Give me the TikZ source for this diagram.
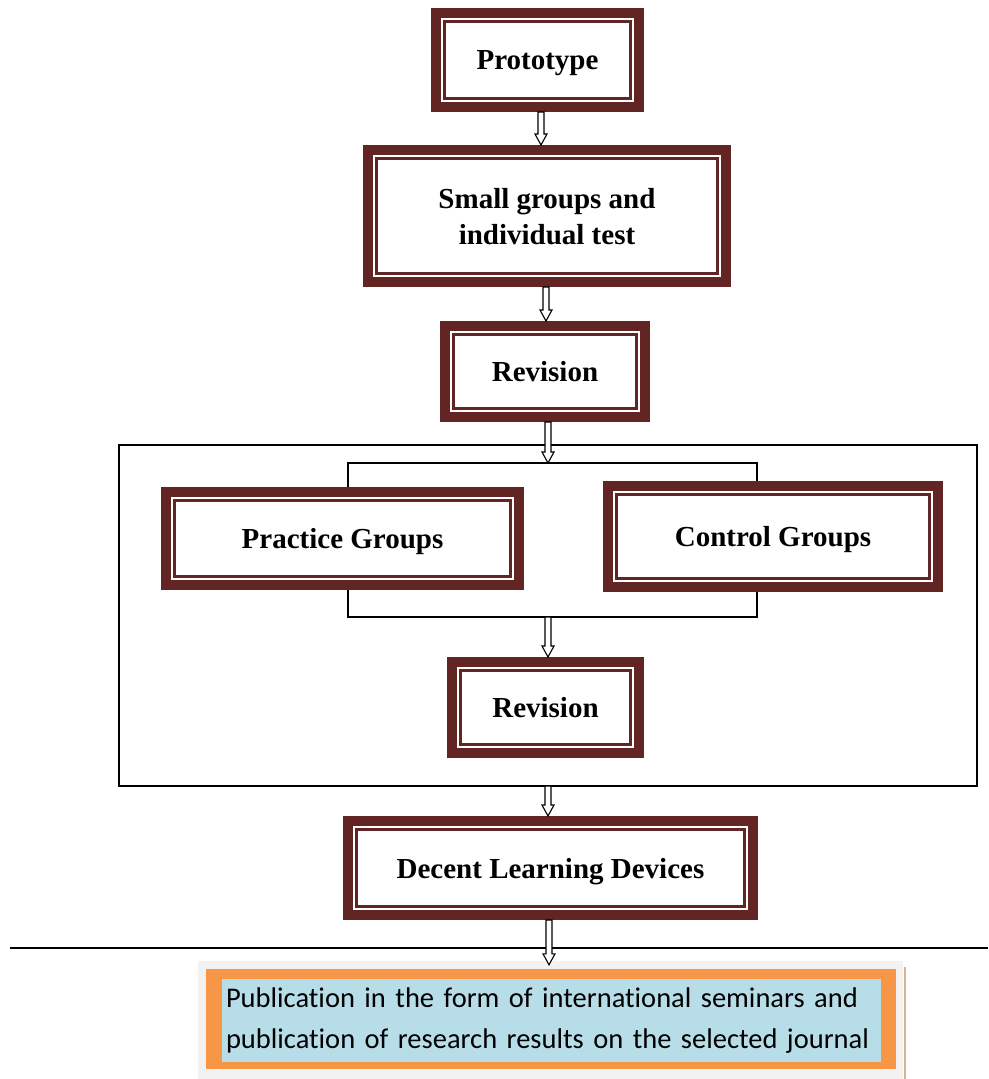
\documentclass[tikz,border=0pt]{standalone}
\usepackage{fontspec}
\setmainfont{Liberation Serif}
\newfontfamily\bodyfont{Carlito}[Ligatures=NoCommon]
\usetikzlibrary{calc}
\definecolor{brn}{HTML}{632523}
\definecolor{pubOrange}{HTML}{F79646}
\definecolor{pubBlue}{HTML}{B7DDE8}
\definecolor{pubGray}{HTML}{F2F2F2}
\definecolor{pubEdge}{HTML}{D6B597}

\tikzset{
  stepbox/.style={draw=brn, line width=3pt, fill=white, inner sep=0pt, text depth=0pt,
    outer sep=13.5pt, align=center, font=\fontsize{29}{36}\selectfont\bfseries},
  blockarr/.style={draw=black, line width=1.1pt, fill=white},
  thinline/.style={draw=black, line width=1.5pt},
}
% hollow block arrow pointing down, from #1 to #2 (x taken from #1)
\newcommand\blockarrow[2]{%
  \draw[blockarr] let \p1=#1, \p2=#2 in
    (\x1-3pt,\y1) -- (\x1-3pt,\y2+11pt) -- (\x1-6pt,\y2+11pt) -- (\x1,\y2)
    -- (\x1+6pt,\y2+11pt) -- (\x1+3pt,\y2+11pt) -- (\x1+3pt,\y1) -- cycle;}

\begin{document}
\begin{tikzpicture}[x=1pt,y=-1pt]
\useasboundingbox[fill=white] (0,0) rectangle (988,1079);

% enclosing frame of the trial stage
\node[thinline, minimum width=858pt, minimum height=341pt, inner sep=0pt, outer sep=0pt] (frame) at (548,615.5) {};

% steps
\node[stepbox, minimum width=186pt, minimum height=77pt] (proto) at (537.5,60) {Prototype};
\node[stepbox, minimum width=341pt, minimum height=115pt] (small) at (547,216) {Small groups and\\individual test};
\node[stepbox, minimum width=183pt, minimum height=74pt] (rev1) at (545,371.5) {Revision};
\node[stepbox, minimum width=336pt, minimum height=76pt] (practice) at (342.5,538.5) {Practice Groups};
\node[stepbox, minimum width=313pt, minimum height=84pt] (control) at (773,536.5) {Control Groups};
\node[stepbox, minimum width=170pt, minimum height=74pt] (rev2) at (545.5,707.5) {Revision};
\node[stepbox, minimum width=388pt, minimum height=77pt] (decent) at (550.5,868) {Decent Learning Devices};

% thick outer band of every step box
\foreach \n in {proto,small,rev1,practice,control,rev2,decent}
  \draw[brn, line width=10pt] ([shift={(5pt,-5pt)}]\n.north west) rectangle ([shift={(-5pt,5pt)}]\n.south east);

% branching into the two groups and joining again
\coordinate (split) at (548,463);
\coordinate (splitL) at (348,463);
\coordinate (splitR) at (757,463);
\coordinate (join) at (548,617);
\coordinate (joinL) at (348,617);
\coordinate (joinR) at (757,617);
\draw[thinline] (practice.north -| splitL) -- (splitL) -- (splitR) -- (control.north -| splitR);
\draw[thinline] (practice.south -| joinL) -- (joinL) -- (joinR) -- (control.south -| joinR);

% separator line
\draw[black, line width=2pt] (10,948) -- (988,948);

% publication box
\fill[pubGray] (198,961) rectangle (903,1079);
\draw[pubEdge, line width=2pt] (905,967) -- (905,1079);
\node[fill=pubOrange, minimum width=690pt, minimum height=100pt, inner sep=0pt] (pub) at (551,1019) {};
\node[fill=pubBlue, minimum height=83pt, text width=651pt, inner sep=4pt, align=left,
      font=\bodyfont\fontsize{28.5}{41}\selectfont] (pubtext) at (551.5,1020.5)
  {Publication in the form of international seminars and\\publication of research results on the selected journal};

% flow arrows
\blockarrow{([xshift=3.5pt]proto.south)}{(small.north)}
\blockarrow{([xshift=-1pt]small.south)}{(rev1.north)}
\blockarrow{([xshift=3pt]rev1.south)}{(split)}
\blockarrow{(join)}{(rev2.north)}
\blockarrow{(frame.south)}{(decent.north)}
\blockarrow{([xshift=-1.5pt]decent.south)}{([yshift=4pt]pub.north)}
\end{tikzpicture}
\end{document}
